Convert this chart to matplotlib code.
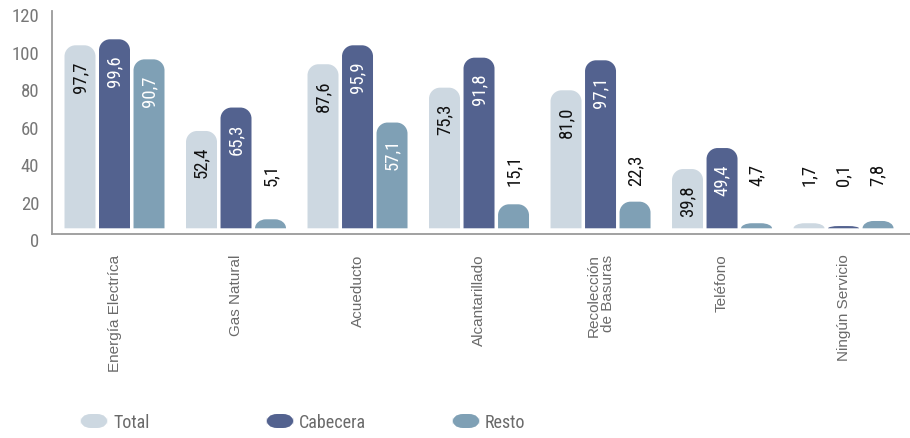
import numpy as np
import matplotlib
matplotlib.use("Agg")
import matplotlib.pyplot as plt
from matplotlib.path import Path
from matplotlib.patches import PathPatch, FancyBboxPatch
from matplotlib import font_manager
from matplotlib.transforms import ScaledTranslation

# datos
categorias = ["Energía Electríca", "Gas Natural", "Acueducto", "Alcantarillado",
              "Recolección\nde Basuras", "Teléfono", "Ningún Servicio"]
series = ["Total", "Cabecera", "Resto"]

# valores impresos en el grafico
total = [97.7, 52.4, 87.6, 75.3, 81.0, 39.8, 1.7]
cabecera = [99.6, 65.3, 95.9, 91.8, 97.1, 49.4, 0.1]
resto = [90.7, 5.1, 57.1, 15.1, 22.3, 4.7, 7.8]

# alturas de las barras tal como se dibujan (leidas contra el eje)
alto_total = [97.6, 51.9, 87.5, 75.0, 73.6, 31.6, 2.7]
alto_cabecera = [100.8, 64.4, 97.6, 91.0, 89.6, 42.8, 1.2]
alto_resto = [90.1, 4.8, 56.4, 12.8, 14.2, 2.7, 3.9]

colores = ["#cdd8e1", "#53628f", "#7fa0b5"]
color_texto = ["#111111", "white", "white"]

nombres = {f.name for f in font_manager.fontManager.ttflist}
narrow = "Roboto Condensed" if "Roboto Condensed" in nombres else "DejaVu Sans"
regular = "Liberation Sans"

fig = plt.figure(figsize=(9.1, 4.39), dpi=100)
ax = fig.add_axes([0.0568, 0.4647, 1 - 0.0568, 0.5255])

ancho = 0.255
paso = 0.284
r_px = 11
x = np.arange(len(categorias))
ax.set_xlim(-0.517, 6.547)
ax.set_ylim(-3.04, 120)

# pixeles por unidad para redondear las esquinas
px_x = 121.5
px_y = 1.875
rx = r_px / px_x
ry_max = r_px / px_y
k = 0.5523


def barra_redondeada(xc, h, color):
    x0 = xc - ancho / 2
    x1 = xc + ancho / 2
    ry = min(ry_max, h)
    verts = [(x0, 0), (x0, h - ry),
             (x0, h - ry + k * ry), (x0 + rx - k * rx, h), (x0 + rx, h),
             (x1 - rx, h),
             (x1 - rx + k * rx, h), (x1, h - ry + k * ry), (x1, h - ry),
             (x1, 0), (x0, 0)]
    codes = [Path.MOVETO, Path.LINETO,
             Path.CURVE4, Path.CURVE4, Path.CURVE4,
             Path.LINETO,
             Path.CURVE4, Path.CURVE4, Path.CURVE4,
             Path.LINETO, Path.CLOSEPOLY]
    ax.add_patch(PathPatch(Path(verts, codes), facecolor=color, edgecolor="none"))


valores = [total, cabecera, resto]
alturas = [alto_total, alto_cabecera, alto_resto]

for j in range(3):
    for i in range(len(categorias)):
        xc = x[i] + (j - 1) * paso
        h = alturas[j][i]
        barra_redondeada(xc, h, colores[j])
        txt = f"{valores[j][i]:.1f}".replace(".", ",")
        if h > 25:
            ax.text(xc, h - 8, txt, rotation=90, ha="center", va="top",
                    color=color_texto[j], fontsize=13.5, family=narrow)
        else:
            ax.text(xc, max(h + 8, 23), txt, rotation=90, ha="center", va="bottom",
                    color="#111111", fontsize=13.5, family=narrow)

# ejes
for s in ["top", "right"]:
    ax.spines[s].set_visible(False)
for s in ["left", "bottom"]:
    ax.spines[s].set_color("#9a9a9a")
    ax.spines[s].set_linewidth(1.3)
ax.spines["left"].set_bounds(-3.04, 115.9)

ax.set_yticks(np.arange(0, 121, 20))
ax.set_yticklabels([str(v) for v in range(0, 121, 20)], family=narrow,
                   fontsize=13.5, color="#777777")
ax.tick_params(axis="y", length=0, pad=9)
off = ScaledTranslation(0, -11 / 100, fig.dpi_scale_trans)
for lab in ax.get_yticklabels():
    lab.set_transform(lab.get_transform() + off)

ax.set_xticks(x)
ax.set_xticklabels(categorias, rotation=90, va="top", ha="center",
                   multialignment="right", family=regular, fontsize=11,
                   color="#6a6a6a", linespacing=1.0)
ax.tick_params(axis="x", length=0, pad=14)

# leyenda
for j, nombre in enumerate(series):
    x_px = 80 + j * 186
    caja = FancyBboxPatch((x_px / 910, (439 - 429) / 439), 28 / 910, 14 / 439,
                          boxstyle="round,pad=0,rounding_size=0.012",
                          mutation_aspect=910 / 439,
                          transform=fig.transFigure, facecolor=colores[j],
                          edgecolor="none")
    fig.patches.append(caja)
    fig.text((x_px + 33) / 910, (439 - 423) / 439, nombre, ha="left", va="center",
             family=narrow, fontsize=13, color="#6a6a6a")

fig.savefig("out.png", dpi=100)
